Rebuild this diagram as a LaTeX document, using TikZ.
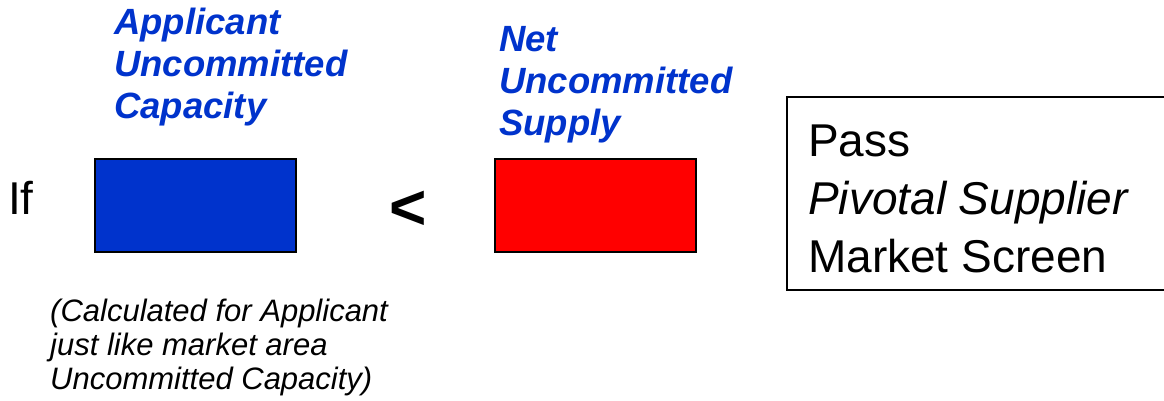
\documentclass[tikz,border=0pt]{standalone}
\usepackage{fontspec}
\setmainfont{Liberation Sans}
\definecolor{labelblue}{HTML}{0033CC}
\definecolor{boxblue}{HTML}{0033CC}
\definecolor{boxred}{HTML}{FF0000}
\tikzset{
  lbl/.style={anchor=north west, inner sep=0pt, align=left, text=labelblue,
    font=\fontsize{36.5}{42}\selectfont\bfseries\itshape},
  colorbox/.style={draw=black, line width=1.5pt},
  bigtxt/.style={inner sep=0pt, font=\fontsize{46}{58}\selectfont},
  note/.style={anchor=north west, inner sep=0pt, align=left,
    font=\fontsize{31}{34}\selectfont\itshape}
}
\begin{document}
\begin{tikzpicture}[x=1pt,y=-1pt]
\useasboundingbox (0,0) rectangle (1164,400);
\clip (0,0) rectangle (1164,400);
% labels
\node[lbl] (alab) at (114,8) {Applicant\\Uncommitted\\Capacity};
\node[lbl] (nlab) at (499,26) {Net\\Uncommitted\\Supply};
% boxes
\filldraw[colorbox, fill=boxblue] (95,159) rectangle (296,252);
\coordinate (bluebox) at (195.5,205.5);
\filldraw[colorbox, fill=boxred] (495,159) rectangle (696,252);
\coordinate (redbox) at (595.5,205.5);
% If and <
\node[bigtxt, anchor=base west] (if) at (8,214) {If};
\node[inner sep=0pt, anchor=base, font=\fontsize{64}{64}\selectfont\bfseries] (lt) at (408.5,229) {<};
% result box
\draw[line width=1.2pt] (1175,97) -- (787,97) -- (787,290) -- (1175,290);
\node[bigtxt, anchor=north west, align=left] (res) at (808,125) {Pass\\\textit{Pivotal Supplier}\\Market Screen};
% note
\node[note] (nt) at (50,299) {(Calculated for Applicant\\just like market area\\Uncommitted Capacity)};
\end{tikzpicture}
\end{document}
